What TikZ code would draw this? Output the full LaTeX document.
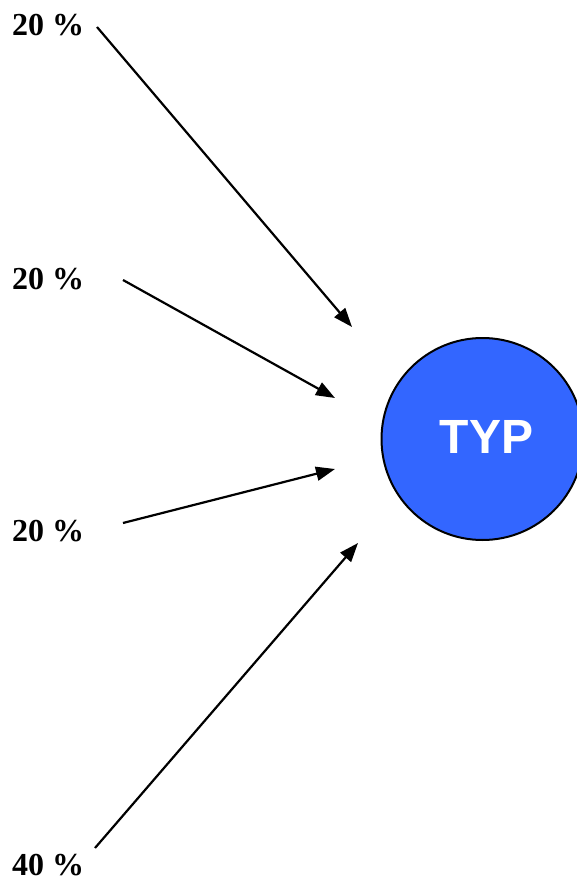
\documentclass[tikz,border=0pt]{standalone}
\usepackage{fontspec}
\setmainfont{Liberation Serif}
\newfontfamily\typfont{Liberation Sans}
\usetikzlibrary{arrows.meta}
\definecolor{typblue}{HTML}{3366FF}
\tikzset{
  pct/.style={anchor=base west, inner sep=0pt, font=\fontsize{32}{32}\selectfont\bfseries},
  conn/.style={line width=2.2pt, -{Triangle[length=19pt,width=14pt]}},
  typnode/.style={circle, draw=black, line width=2pt, fill=typblue, minimum size=202pt, inner sep=0pt},
  typtext/.style={inner sep=0pt, text=white, font=\typfont\fontsize{48}{48}\selectfont\bfseries, anchor=base}
}
\begin{document}
\begin{tikzpicture}[x=1pt,y=-1pt]
\useasboundingbox (0,0) rectangle (576,882);
\node[pct] (l1) at (12,36) {20 \%};
\node[pct] (l2) at (12,289) {20 \%};
\node[pct] (l3) at (12,541) {20 \%};
\node[pct] (l4) at (12,875) {40 \%};
\node[typnode] (typ) at (482.5,439) {};
\node[typtext] (typtxt) at (486.5,453) {TYP};
\coordinate (s1) at (97,27);
\coordinate (e1) at (352,327);
\coordinate (s2) at (123,280);
\coordinate (e2) at (335,398);
\coordinate (s3) at (123,523);
\coordinate (e3) at (335,469);
\coordinate (s4) at (95,848);
\coordinate (e4) at (358,543);
\draw[conn] (s1) -- (e1);
\draw[conn] (s2) -- (e2);
\draw[conn] (s3) -- (e3);
\draw[conn] (s4) -- (e4);
\end{tikzpicture}
\end{document}
